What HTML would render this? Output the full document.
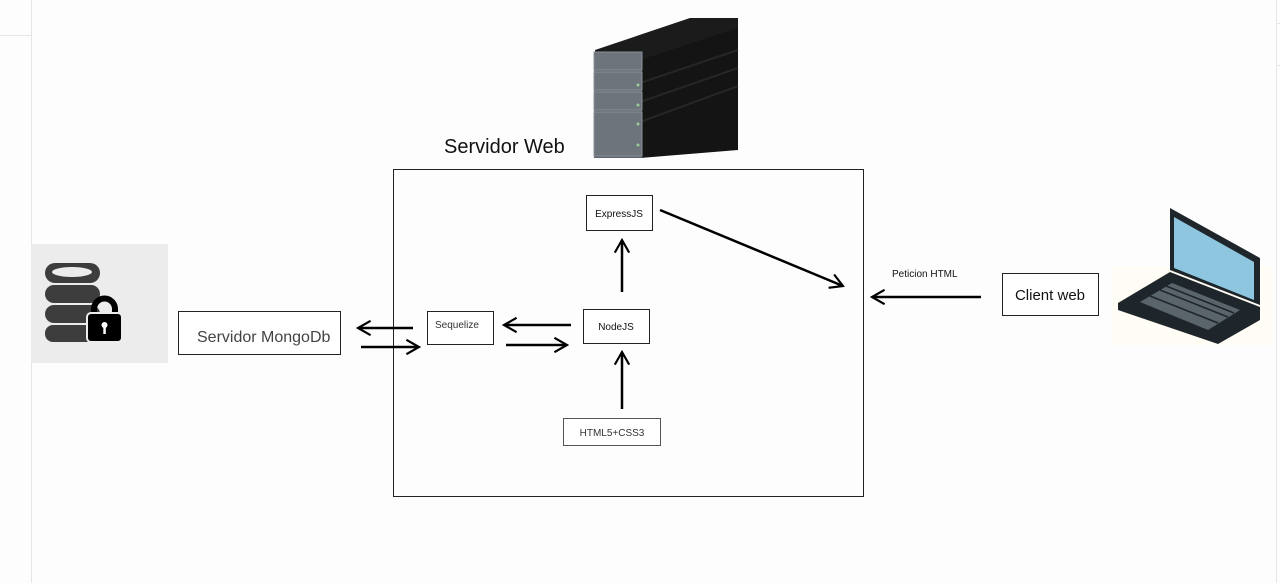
<!DOCTYPE html>
<html><head><meta charset="utf-8"><style>
html,body{margin:0;padding:0;background:#fdfdfd;}
svg{display:block;font-family:"Liberation Sans",sans-serif;}
</style></head><body>
<svg width="1280" height="583" viewBox="0 0 1280 583" xmlns="http://www.w3.org/2000/svg">
<defs>
<marker id="ah" viewBox="0 0 20 20" refX="18" refY="10" markerWidth="18" markerHeight="18" markerUnits="userSpaceOnUse" orient="auto">
<path d="M4,2 L18,10 L4,18" fill="none" stroke="#000" stroke-width="2.4"/>
</marker>
</defs>
<rect width="1280" height="583" fill="#fdfdfd"/>
<line x1="31.5" y1="0" x2="31.5" y2="583" stroke="#e6e6e6"/>
<line x1="0" y1="35.5" x2="31" y2="35.5" stroke="#e6e6e6"/>
<line x1="1276.5" y1="0" x2="1276.5" y2="583" stroke="#e6e6e6"/>
<line x1="1277" y1="23.5" x2="1280" y2="23.5" stroke="#e6e6e6"/>
<line x1="1277" y1="65.5" x2="1280" y2="65.5" stroke="#e6e6e6"/>

<!-- server -->
<g>
<polygon points="595,50 690,18 738,18 738,40 640,75 595,60" fill="#1b1b1b"/>
<polygon points="640,60 738,28 738,150 640,158" fill="#141414"/>
<line x1="640" y1="83" x2="738" y2="50" stroke="#262626" stroke-width="2"/>
<line x1="640" y1="102" x2="738" y2="68" stroke="#262626" stroke-width="2"/>
<line x1="640" y1="122" x2="738" y2="86" stroke="#262626" stroke-width="2"/>
<rect x="594" y="52" width="48" height="106" fill="#5d646b"/>
<rect x="594" y="52" width="48" height="18" fill="#6d747b" stroke="#8a9199"/>
<rect x="594" y="72" width="48" height="18" fill="#6d747b" stroke="#8a9199"/>
<rect x="594" y="92" width="48" height="18" fill="#6d747b" stroke="#8a9199"/>
<rect x="594" y="112" width="48" height="44" fill="#6d747b" stroke="#8a9199"/>
<circle cx="638" cy="85" r="1.5" fill="#9c9"/><circle cx="638" cy="105" r="1.5" fill="#9c9"/>
<circle cx="638" cy="124" r="1.5" fill="#9c9"/><circle cx="638" cy="145" r="1.5" fill="#9c9"/>
</g>
<text x="444" y="153" font-size="20" fill="#111">Servidor Web</text>

<!-- main box -->
<rect x="393.5" y="169.5" width="470" height="327" fill="none" stroke="#222"/>

<!-- DB icon -->
<rect x="31" y="244" width="137" height="119" fill="#ececec"/>
<g fill="#3d3d3d">
<rect x="45" y="263" width="55" height="20" rx="10"/>
<rect x="45" y="285" width="55" height="18" rx="9"/>
<rect x="45" y="305" width="55" height="18" rx="9"/>
<rect x="45" y="325" width="55" height="17" rx="8"/>
</g>
<ellipse cx="72" cy="272" rx="20" ry="5" fill="#ececec"/>
<path d="M94,316 v-7 a10.5,10.5 0 0 1 21,0 v7" fill="none" stroke="#000" stroke-width="6"/>
<rect x="87" y="313" width="35" height="29" rx="4" fill="#000" stroke="#ececec" stroke-width="2"/>
<circle cx="104.5" cy="325" r="3" fill="#fff"/><rect x="103.3" y="326" width="2.5" height="8" fill="#fff"/>

<!-- boxes -->
<g fill="#fff" stroke="#222">
<rect x="178.5" y="311.5" width="162" height="43"/>
<rect x="427.5" y="311.5" width="66" height="33"/>
<rect x="583.5" y="309.5" width="66" height="34"/>
<rect x="586.5" y="195.5" width="66" height="35"/>
<rect x="563.5" y="418.5" width="97" height="27" stroke="#555"/>
<rect x="1002.5" y="273.5" width="96" height="42"/>
</g>
<text x="197" y="342" font-size="16" fill="#444">Servidor MongoDb</text>
<text x="435" y="328" font-size="10" fill="#333">Sequelize</text>
<text x="616" y="330" font-size="10" fill="#111" text-anchor="middle">NodeJS</text>
<text x="619" y="217" font-size="10" fill="#111" text-anchor="middle">ExpressJS</text>
<text x="612" y="436" font-size="10" fill="#333" text-anchor="middle">HTML5+CSS3</text>
<text x="1050" y="300" font-size="15" fill="#111" text-anchor="middle">Client web</text>
<text x="892" y="277" font-size="10" fill="#111">Peticion HTML</text>

<!-- arrows -->
<g stroke="#000" stroke-width="2.5" fill="none" marker-end="url(#ah)">
<line x1="413" y1="328" x2="358" y2="328"/>
<line x1="361" y1="347" x2="419" y2="347"/>
<line x1="571" y1="325" x2="504" y2="325"/>
<line x1="506" y1="345" x2="567" y2="345"/>
<line x1="622" y1="292" x2="622" y2="240"/>
<line x1="622" y1="409" x2="622" y2="352"/>
<line x1="660" y1="210" x2="843" y2="286"/>
<line x1="981" y1="297" x2="872" y2="297"/>
</g>

<!-- laptop -->
<rect x="1112" y="266" width="161" height="79" fill="#fffdf5"/>
<polygon points="1170,208 1260,258 1260,305 1170,270" fill="#1f262b"/>
<polygon points="1174,217 1254,262 1254,300 1174,268" fill="#8ec6e0"/>
<polygon points="1118,303 1170,272 1260,307 1260,320 1218,344 1118,310" fill="#1f262b"/>
<polygon points="1140,302 1172,283 1240,310 1208,330" fill="#5a646b"/>
<g stroke="#1f262b" stroke-width="1.5">
<line x1="1150" y1="296" x2="1218" y2="323"/>
<line x1="1160" y1="290" x2="1228" y2="317"/>
<line x1="1166" y1="286" x2="1234" y2="313"/>
</g>
</svg>
</body></html>
